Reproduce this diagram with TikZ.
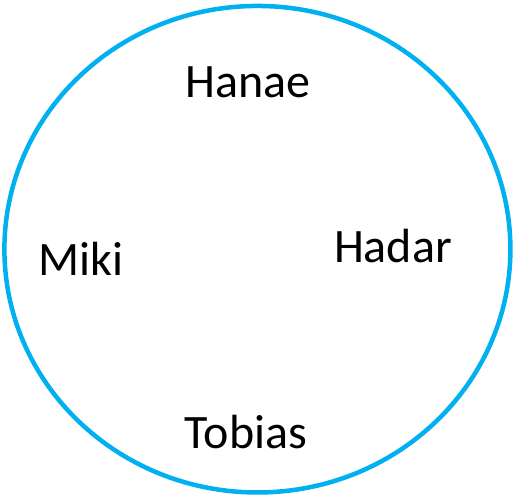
\documentclass[tikz,border=0pt]{standalone}
\usepackage{fontspec}
\setmainfont{Carlito}
\usetikzlibrary{shapes.geometric}
\definecolor{ringblue}{RGB}{0,176,240}
\begin{document}
\begin{tikzpicture}[x=1pt,y=-1pt,
  ringstyle/.style={draw=ringblue,line width=4.5pt},
  persontext/.style={anchor=base,inner sep=0pt,font=\fontsize{48}{58}\selectfont}]
\useasboundingbox (0,0) rectangle (518,498);
\node[ringstyle,ellipse,minimum width=506pt,minimum height=486.5pt,inner sep=0pt,outer sep=0pt] (circ) at (257.4,249.2) {};
\node[persontext] (hanae) at (248,97) {Hanae};
\node[persontext] (hadar) at (393,262) {Hadar};
\node[persontext] (miki) at (81,275) {Miki};
\node[persontext] (tobias) at (246,448) {Tobias};
\end{tikzpicture}
\end{document}
